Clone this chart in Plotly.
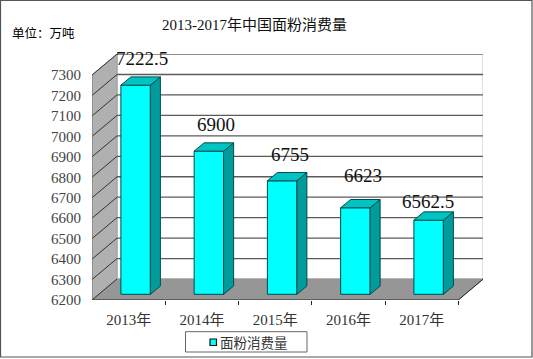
import plotly.graph_objects as go

categories = ["2013年", "2014年", "2015年", "2016年", "2017年"]
values = [7222.5, 6900, 6755, 6623, 6562.5]
value_labels = ["7222.5", "6900", "6755", "6623", "6562.5"]
label_dx = [6, 7, 8, 8, -1]
label_dy = [27, 26.5, 26, 32, 19]
y_ticks = list(range(6200, 7301, 100))
series_name = "面粉消费量"
title = "2013-2017年中国面粉消费量"
unit = "单位：万吨"

W, H = 533, 359
L, R, T, B = 92, 483, 54, 300
PX_X = 73.25          # pixels per category
PX_Y = 0.2045         # pixels per value unit
Y0 = 6200
X0 = -0.5
xr = [X0, X0 + (R - L) / PX_X]
yr = [Y0, Y0 + (B - T) / PX_Y]
ddx, ddy = 25 / PX_X, 21 / PX_Y        # depth of the chart box
bar_sx, bar_sy = 7 / PX_X, 5.7 / PX_Y  # bars sit inside the box
bw = 29.5 / PX_X
bdx, bdy = 10 / PX_X, 8.3 / PX_Y       # bar depth
n = len(categories)
x_end = X0 + n
SERIF = "SimSun, 'Liberation Serif', 'Noto Sans CJK SC', serif"
CJK = "'Noto Sans CJK SC', sans-serif"
GRID = "#5a5a5a"

shapes = []
def poly(pts, fill, line=None, lw=1):
    d = "M" + " L".join(f"{x},{y}" for x, y in pts) + " Z"
    shapes.append(dict(type="path", path=d, xref="x", yref="y", fillcolor=fill,
                       line=dict(color=line or fill, width=lw), layer="below"))
def seg(x0, y0, x1, y1, color=GRID, lw=1.3):
    shapes.append(dict(type="line", x0=x0, y0=y0, x1=x1, y1=y1, xref="x", yref="y",
                       line=dict(color=color, width=lw), layer="below"))
def paper_x(px):
    return (px - L) / (R - L)
def paper_y(px):
    return (B - px) / (B - T)

ytop = y_ticks[-1]
# back wall, left wall, floor
poly([(X0 + ddx, Y0 + ddy), (x_end + ddx, Y0 + ddy), (x_end + ddx, ytop + ddy), (X0 + ddx, ytop + ddy)],
     "#ffffff", "#a8a8a8", 1.2)
poly([(X0, Y0), (X0 + ddx, Y0 + ddy), (X0 + ddx, ytop + ddy), (X0, ytop)], "#b0b0b0", "#a0a0a0", 1)
poly([(X0, Y0), (X0 + ddx, Y0 + ddy), (x_end + ddx, Y0 + ddy), (x_end, Y0)], "#969696", "#969696", 1)
# gridlines
for v in y_ticks[1:]:
    if v < ytop:
        seg(X0 + ddx, v + ddy, x_end + ddx, v + ddy)
    else:
        seg(X0 + ddx, v + ddy, x_end + ddx, v + ddy, "#808080", 1.2)
    seg(X0, v, X0 + ddx, v + ddy, "#333333", 1)
seg(X0, Y0, X0 + ddx, Y0 + ddy, "#333333", 1)
seg(X0, Y0, X0, ytop, "#777777", 1)
seg(X0, Y0, x_end, Y0, "#222222", 1.2)
seg(x_end, Y0, x_end + ddx, Y0 + ddy, "#222222", 1)

# outer frame
shapes.append(dict(type="rect", xref="paper", yref="paper",
                   x0=paper_x(0.5), x1=paper_x(532), y0=paper_y(357), y1=paper_y(0.5),
                   line=dict(color="#555555", width=1.2), fillcolor="rgba(0,0,0,0)", layer="below"))
# legend box and swatch
shapes.append(dict(type="rect", xref="paper", yref="paper",
                   x0=paper_x(185.5), x1=paper_x(307), y0=paper_y(352), y1=paper_y(331.7),
                   line=dict(color="#666666", width=1), fillcolor="white", layer="above"))
shapes.append(dict(type="rect", xref="paper", yref="paper",
                   x0=paper_x(210), x1=paper_x(216.5), y0=paper_y(345.5), y1=paper_y(339),
                   line=dict(color="#111111", width=1.2), fillcolor="#00ffff", layer="above"))

xs = list(range(n))
fig = go.Figure()
fig.add_bar(x=xs, y=[v - Y0 for v in values], base=Y0, width=bw, xaxis="x2", yaxis="y2", name=series_name,
            marker=dict(color="#00ffff", line=dict(color="#004c4c", width=1)),
            showlegend=False, hoverinfo="skip")

side_x, side_y, top_x, top_y = [], [], [], []
for i, v in zip(xs, values):
    r, l = i + bw / 2, i - bw / 2
    side_x += [r, r + bdx, r + bdx, r, r, None]
    side_y += [Y0, Y0 + bdy, v + bdy, v, Y0, None]
    top_x += [l, l + bdx, r + bdx, r, l, None]
    top_y += [v, v + bdy, v + bdy, v, v, None]
fig.add_scatter(x=side_x, y=side_y, xaxis="x2", yaxis="y2", mode="lines", fill="toself",
                fillcolor="#009c9c", line=dict(color="#004c4c", width=1), showlegend=False, hoverinfo="skip")
fig.add_scatter(x=top_x, y=top_y, xaxis="x2", yaxis="y2", mode="lines", fill="toself",
                fillcolor="#00c4c4", line=dict(color="#004c4c", width=1), showlegend=False, hoverinfo="skip")

annotations = [
    dict(x=i, y=v, xref="x2", yref="y2", text=t, showarrow=False, xshift=dx, yshift=dy,
         font=dict(family=SERIF, size=19, color="#111111"))
    for i, v, t, dx, dy in zip(xs, values, value_labels, label_dx, label_dy)
]
annotations.append(dict(xref="paper", yref="paper", x=paper_x(10), y=paper_y(33),
                        xanchor="left", yanchor="middle", text=unit, showarrow=False,
                        font=dict(family=CJK, size=12.5, color="#000000")))
annotations.append(dict(xref="paper", yref="paper", x=paper_x(218), y=paper_y(342),
                        xanchor="left", yanchor="middle", text=series_name, showarrow=False,
                        font=dict(family=CJK, size=13.5, color="#333333")))

fig.update_layout(
    width=W, height=H, autosize=False,
    margin=dict(l=L, r=W - R, t=T, b=H - B, pad=0, autoexpand=False),
    paper_bgcolor="white", plot_bgcolor="rgba(0,0,0,0)",
    title=dict(text=title, x=254.5 / W, xanchor="center", y=1 - 25 / H, yanchor="middle",
               xref="container", yref="container",
               font=dict(family=SERIF, size=15, color="#111111")),
    xaxis=dict(range=xr, tickmode="array", tickvals=xs, ticktext=categories, ticks="", showgrid=False,
               zeroline=False, showline=False, ticklabelstandoff=9,
               tickfont=dict(family=SERIF, size=15, color="#333333"),
               minor=dict(tickmode="array", tickvals=[X0 + k for k in range(1, n + 1)], ticks="outside",
                          ticklen=4, tickcolor="#222222", tickwidth=1, showgrid=False)),
    yaxis=dict(range=yr, tickmode="array", tickvals=y_ticks, ticks="", showgrid=False, zeroline=False,
               showline=False, ticklabelstandoff=10,
               tickfont=dict(family=SERIF, size=15, color="#444444")),
    xaxis2=dict(range=[a - bar_sx for a in xr], overlaying="x", visible=False),
    yaxis2=dict(range=[a - bar_sy for a in yr], overlaying="y", visible=False),
    shapes=shapes, annotations=annotations, barmode="overlay", showlegend=False,
)

fig.write_html("out.html", config=dict(displayModeBar=False),
               post_script="document.body.style.margin='0';")
